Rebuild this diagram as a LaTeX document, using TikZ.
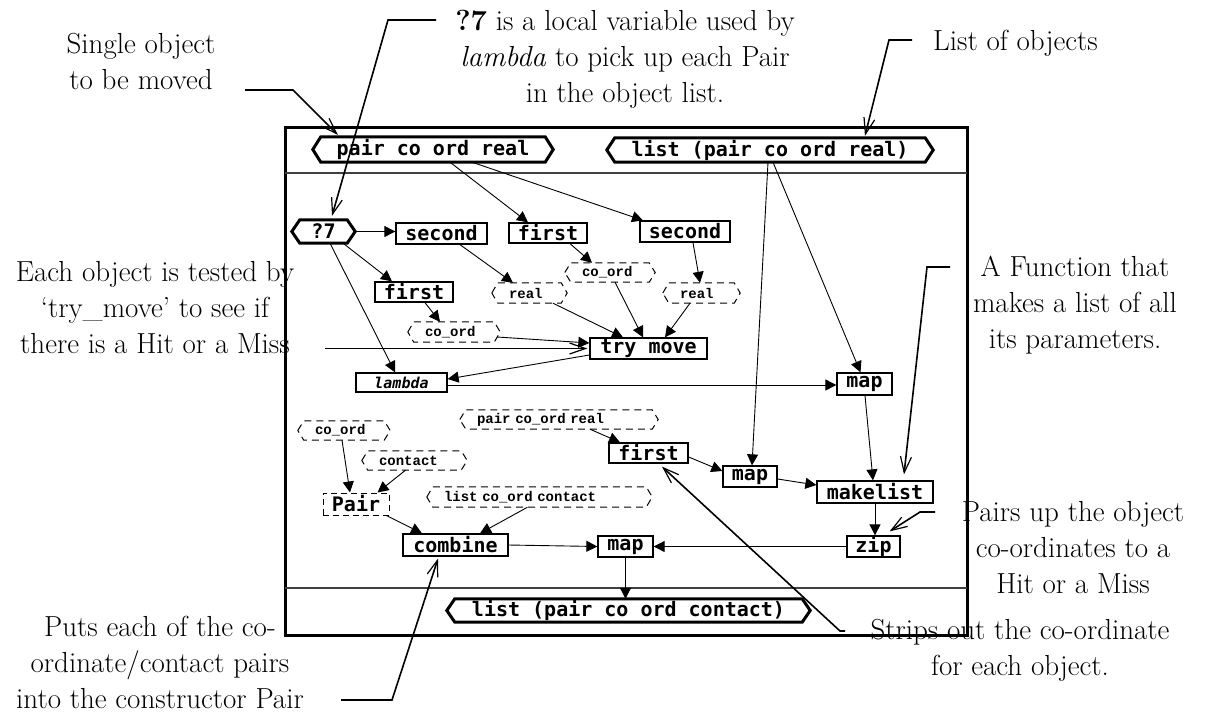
\documentclass[tikz,border=0pt]{standalone}
\usepackage{fontspec}
\usetikzlibrary{arrows.meta,calc}
\newfontfamily\mainmono{DejaVu Sans Mono}
\newfontfamily\smallmono{Liberation Mono}
\newcommand{\codeB}{\mainmono\bfseries\fontsize{20}{22}\selectfont}
\newcommand{\codeI}{\mainmono\bfseries\itshape\fontsize{15}{17}\selectfont}
\newcommand{\codeS}{\smallmono\bfseries\fontsize{14}{15}\selectfont}
\newcommand{\annfont}{\fontsize{29}{36}\selectfont}
% outline with pointed ends drawn round a named node
\newcommand{\hexoutline}[3]{\draw[#1] (#2.west) -- ($(#2.north west)+(#3,0)$) -- ($(#2.north east)+(-#3,0)$) -- (#2.east) -- ($(#2.south east)+(-#3,0)$) -- ($(#2.south west)+(#3,0)$) -- cycle;}
\begin{document}
\begin{tikzpicture}[x=1pt,y=-1pt,
  frameline/.style={line width=3pt},
  sepline/.style={line width=1.5pt,black!75},
  hexnode/.style={inner sep=0pt,font=\codeB},
  hexthick/.style={line width=3pt,line join=miter},
  hexdash/.style={line width=1pt,dash pattern=on 7pt off 5pt},
  boxnode/.style={draw,line width=1.3pt,inner sep=0pt,font=\codeB},
  dashnode/.style={inner xsep=17pt,inner ysep=0pt,align=left,font=\codeS},
  flow/.style={line width=0.9pt,-{Triangle[length=11pt,width=11pt]}},
  note/.style={line width=1.6pt,-{Straight Barb[length=16pt,width=11pt,line width=1.2pt]}},
  notetext/.style={align=center,font=\annfont,inner sep=0pt}]
\useasboundingbox (0,0) rectangle (1207,713);

% frame and separators
\draw[frameline] (285,127) rectangle (967,635);
\draw[sepline] (285,173) -- (967,173);
\draw[sepline] (285,588) -- (967,588);

% typed terminals
\node[hexnode,minimum width=240pt,minimum height=25pt] (phex) at (433,149.5) {pair co ord real};
\node[hexnode,minimum width=326pt,minimum height=24pt] (lhex) at (770,150) {list (pair co ord real)};
\node[hexnode,minimum width=63pt,minimum height=23pt] (q7) at (323.5,231.5) {?7};
\node[hexnode,minimum width=363pt,minimum height=23pt] (bhex) at (628.5,610.5) {list (pair co ord contact)};
\hexoutline{hexthick}{phex}{8}
\hexoutline{hexthick}{lhex}{8}
\hexoutline{hexthick}{q7}{8}
\hexoutline{hexthick}{bhex}{8}

% function boxes
\node[boxnode,minimum width=91pt,minimum height=21pt] (second1) at (441.5,233.5) {second};
\node[boxnode,minimum width=78pt,minimum height=20pt] (first1) at (548,233) {first};
\node[boxnode,minimum width=90pt,minimum height=21pt] (second2) at (685,231.5) {second};
\node[boxnode,minimum width=78pt,minimum height=20pt] (first2) at (414,292) {first};
\node[boxnode,minimum width=117pt,minimum height=21pt] (trymove) at (648.5,348.5) {try move};
\node[boxnode,minimum width=91pt,minimum height=19pt,font=\codeI] (lambda) at (401.5,382.5) {lambda};
\node[boxnode,minimum width=55pt,minimum height=22pt] (maptop) at (864.5,384) {map};
\node[boxnode,minimum width=79pt,minimum height=20pt] (first3) at (648.5,453) {first};
\node[boxnode,minimum width=54pt,minimum height=21pt] (mapmid) at (750,476.5) {map};
\node[boxnode,minimum width=116pt,minimum height=22pt] (makelist) at (875,492) {makelist};
\node[boxnode,minimum width=53pt,minimum height=21pt] (zip) at (873.5,546.5) {zip};
\node[boxnode,minimum width=105pt,minimum height=22pt] (combine) at (455.5,545) {combine};
\node[boxnode,minimum width=55pt,minimum height=21pt] (mapbot) at (625.5,546.5) {map};
\node[boxnode,line width=1pt,dash pattern=on 6pt off 4pt,minimum width=66pt,minimum height=22pt] (pair) at (356,504) {Pair};

% intermediate values
\node[dashnode,text width=41pt,minimum height=20pt] (dreal1) at (529.5,293) {real};
\node[dashnode,text width=56pt,minimum height=19pt] (dcoord1) at (610,272.5) {co\_ord};
\node[dashnode,text width=43pt,minimum height=20pt] (dreal2) at (701.5,293) {real};
\node[dashnode,text width=58pt,minimum height=20pt] (dcoord2) at (454,332) {co\_ord};
\node[dashnode,text width=164pt,minimum height=19pt] (dpcr) at (559,419.5) {pair co\_ord real};
\node[dashnode,text width=58pt,minimum height=19pt] (dcoord3) at (344,430.5) {co\_ord};
\node[dashnode,text width=71pt,minimum height=19pt] (contact) at (414.5,460.5) {contact};
\node[dashnode,text width=191pt,minimum height=20pt] (dlcc) at (539.5,497) {list co\_ord contact};
\foreach \n in {dreal1,dcoord1,dreal2,dcoord2,dpcr,dcoord3,contact,dlcc}{\hexoutline{hexdash}{\n}{6}}

% data flow
\draw[flow] ($(phex.south)+(17,0)$) -- ($(first1.north)+(-20,0)$);
\draw[flow] ($(phex.south)+(39,0)$) -- ($(second2.north)+(-42,0)$);
\draw[flow] ($(lhex.south)+(-2,0)$) -- ($(mapmid.north)+(2,0)$);
\draw[flow] ($(lhex.south)+(3,0)$) -- ($(maptop.north)+(-4,0)$);
\draw[flow] (q7.east) -- (q7.east -| second1.west);
\draw[flow] ($(q7.south)+(19.5,0)$) -- ($(first2.north)+(-22,0)$);
\draw[flow] ($(q7.south)+(6.5,0)$) -- ($(lambda.north)+(-6.5,0)$);
\draw[flow] ($(second1.south)+(18.5,0)$) -- ($(dreal1.north)+(-16.5,0)$);
\draw[flow] ($(first1.south)+(22,0)$) -- ($(dcoord1.north)+(-18,0)$);
\draw[flow] ($(second2.south)+(8,0)$) -- ($(dreal2.north)+(-1.5,0)$);
\draw[flow] ($(first2.south)+(11,0)$) -- ($(dcoord2.north)+(-14,0)$);
\draw[flow] ($(dreal1.south)+(23.5,0)$) -- ($(trymove.north)+(-25.5,0)$);
\draw[flow] ($(dcoord1.south)+(5,0)$) -- ($(trymove.north)+(-5.5,0)$);
\draw[flow] ($(dreal2.south)+(-11.5,0)$) -- ($(trymove.north)+(16.5,0)$);
\draw[flow] ($(dcoord2.east)+(-3,5)$) -- ($(trymove.west)+(0,-5.5)$);
\draw[flow] ($(trymove.west)+(0,6.5)$) -- ($(lambda.east)+(0,-3.5)$);
\draw[flow] ($(lambda.east)+(0,2.5)$) -- ($(maptop.west)+(0,1)$);
\draw[flow] ($(maptop.south)+(0.5,0)$) -- ($(makelist.north)+(-2,0)$);
\draw[flow] ($(dpcr.south)+(31,0)$) -- ($(first3.north)+(-28.5,0)$);
\draw[flow] ($(first3.east)+(0,4)$) -- ($(mapmid.west)+(0,-5.5)$);
\draw[flow] ($(mapmid.east)+(0,2.5)$) -- ($(makelist.west)+(0,-7)$);
\draw[flow] (makelist.south) -- (makelist.south |- zip.north);
\draw[flow] (zip.west) -- (mapbot.east);
\draw[flow] (combine.east) -- (mapbot.west);
\draw[flow] (mapbot.south) -- (mapbot.south |- bhex.north);
\draw[flow] ($(dcoord3.south)+(-2,0)$) -- ($(pair.north)+(-6,0)$);
\draw[flow] ($(contact.south)+(-9,0)$) -- ($(pair.north east)+(-12,0)$);
\draw[flow] ($(pair.south east)+(-3,0)$) -- ($(combine.north)+(-33.5,0)$);
\draw[flow] ($(dlcc.south)+(-12,0)$) -- ($(combine.north)+(24.5,0)$);

% annotations
\node[notetext] (tsingle) at (141,61) {Single object\\to be moved};
\node[notetext] (tlocal) at (625,59) {\textbf{?7} is a local variable used by\\\textit{lambda} to pick up each Pair\\in the object list.};
\node[notetext,anchor=west] (tlist) at (933,43) {List of objects};
\node[notetext] (tfunc) at (1075,305) {A Function that\\makes a list of all\\its parameters.};
\node[notetext] (teach) at (155,308) {Each object is tested by\\`try\_move' to see if\\there is a Hit or a Miss};
\node[notetext] (tpairs) at (1073,548) {Pairs up the object\\co-ordinates to a\\Hit or a Miss};
\node[notetext] (tstrips) at (1020,650) {Strips out the co-ordinate\\for each object.};
\node[notetext] (tputs) at (160,662) {Puts each of the co-\\ordinate/contact pairs\\into the constructor Pair};

\coordinate (sobjA) at (245,90);  \coordinate (sobjB) at (293,90);
\coordinate (locA) at (436,20);   \coordinate (locB) at (388,20);
\coordinate (lstA) at (912,40);   \coordinate (lstB) at (889,40);
\coordinate (fnA) at (950,267);   \coordinate (fnB) at (927,267);
\coordinate (eachA) at (325,348.5);
\coordinate (prA) at (935,512);   \coordinate (prB) at (920,512);
\coordinate (stA) at (845,631);   \coordinate (stB) at (840,631);
\coordinate (ptA) at (341,700);   \coordinate (ptB) at (392,700);

\draw[note] (sobjA) -- (sobjB) -- ($(phex.north west)+(25,-2)$);
\draw[note] (locA) -- (locB) -- ($(q7.north)+(8.5,-4)$);
\draw[note] (lstA) -- (lstB) -- ($(lhex.north)+(95,-2)$);
\draw[note] (fnA) -- (fnB) -- ($(makelist.north)+(29,-6)$);
\draw[note] (eachA) -- ($(trymove.west)+(-2,0)$);
\draw[note] (prA) -- (prB) -- ($(zip.north east)+(-11,-4)$);
\draw[note] (stA) -- (stB) -- ($(first3.south)+(13.5,3)$);
\draw[note] (ptA) -- (ptB) -- ($(combine.south)+(-17.5,2)$);
\end{tikzpicture}
\end{document}
